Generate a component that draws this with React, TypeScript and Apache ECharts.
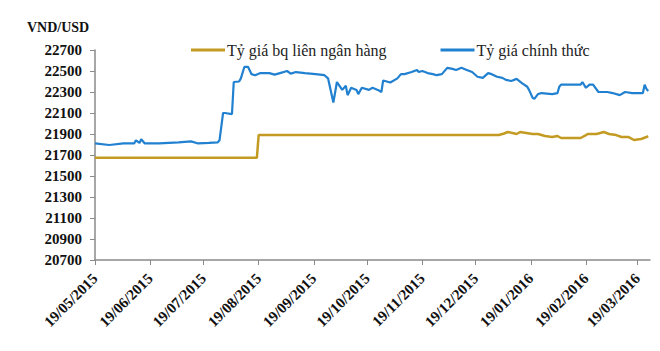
import React, { useEffect, useRef } from "react";
import * as echarts from "echarts";

const seriesNames = ["Tỷ giá bq liên ngân hàng", "Tỷ giá chính thức"];

const yTicks = [20700, 20900, 21100, 21300, 21500, 21700, 21900, 22100, 22300, 22500, 22700];

const xTickDates = [
  "2015-05-19", "2015-06-19", "2015-07-19", "2015-08-19", "2015-09-19", "2015-10-19",
  "2015-11-19", "2015-12-19", "2016-01-19", "2016-02-19", "2016-03-19",
];

const xStart = "2015-05-19";
const xEnd = "2016-03-26";

const goldDates = [
  "2015-05-19", "2015-08-18", "2015-08-19", "2016-01-01", "2016-01-04", "2016-01-06",
  "2016-01-11", "2016-01-13", "2016-01-20", "2016-01-23", "2016-01-27", "2016-01-31",
  "2016-02-03", "2016-02-05", "2016-02-16", "2016-02-19", "2016-02-20", "2016-02-25",
  "2016-02-29", "2016-03-03", "2016-03-07", "2016-03-10", "2016-03-14", "2016-03-17",
  "2016-03-21", "2016-03-24", "2016-03-25",
];
const goldValues = [
  21673, 21673, 21890, 21890, 21905, 21919,
  21900, 21919, 21900, 21900, 21881, 21871,
  21881, 21862, 21862, 21890, 21900, 21900,
  21919, 21900, 21890, 21871, 21871, 21843,
  21852, 21871, 21880,
];

const blueDates = [
  "2015-05-19", "2015-05-27", "2015-06-04", "2015-06-10", "2015-06-11", "2015-06-13",
  "2015-06-14", "2015-06-16", "2015-06-24", "2015-07-05", "2015-07-12", "2015-07-16",
  "2015-07-22", "2015-07-27", "2015-07-28", "2015-07-30", "2015-07-31", "2015-08-04",
  "2015-08-05", "2015-08-08", "2015-08-09", "2015-08-11", "2015-08-13", "2015-08-15",
  "2015-08-17", "2015-08-20", "2015-08-25", "2015-08-28", "2015-08-31", "2015-09-04",
  "2015-09-06", "2015-09-09", "2015-09-14", "2015-09-20", "2015-09-25", "2015-09-27",
  "2015-09-30", "2015-10-02", "2015-10-05", "2015-10-07", "2015-10-08", "2015-10-10",
  "2015-10-13", "2015-10-14", "2015-10-16", "2015-10-20", "2015-10-22", "2015-10-25",
  "2015-10-27", "2015-10-28", "2015-11-01", "2015-11-05", "2015-11-07", "2015-11-09",
  "2015-11-13", "2015-11-16", "2015-11-17", "2015-11-19", "2015-11-22", "2015-11-25",
  "2015-11-27", "2015-11-30", "2015-12-03", "2015-12-06", "2015-12-08", "2015-12-11",
  "2015-12-14", "2015-12-17", "2015-12-20", "2015-12-23", "2015-12-26", "2015-12-28",
  "2015-12-31", "2016-01-03", "2016-01-05", "2016-01-08", "2016-01-11", "2016-01-14",
  "2016-01-17", "2016-01-18", "2016-01-20", "2016-01-21", "2016-01-23", "2016-01-25",
  "2016-01-31", "2016-02-03", "2016-02-04", "2016-02-05", "2016-02-16", "2016-02-17",
  "2016-02-19", "2016-02-21", "2016-02-23", "2016-02-26", "2016-03-02", "2016-03-05",
  "2016-03-09", "2016-03-12", "2016-03-16", "2016-03-22", "2016-03-23", "2016-03-24",
  "2016-03-25",
];
const blueValues = [
  21810, 21795, 21810, 21810, 21840, 21815,
  21850, 21810, 21810, 21820, 21830, 21810,
  21815, 21820, 21840, 22100, 22100, 22090,
  22395, 22400, 22430, 22540, 22540, 22470,
  22460, 22480, 22480, 22465, 22480, 22500,
  22475, 22490, 22480, 22470, 22460, 22430,
  22200, 22395, 22320, 22360, 22270, 22340,
  22320, 22280, 22340, 22320, 22340, 22320,
  22300, 22410, 22390, 22430, 22470, 22470,
  22490, 22510, 22490, 22500, 22480, 22470,
  22460, 22470, 22530, 22520, 22510, 22530,
  22510, 22490, 22445, 22435, 22480, 22470,
  22445, 22435, 22415, 22405, 22425, 22385,
  22350, 22320, 22245, 22235, 22280, 22290,
  22280, 22290, 22350, 22370, 22370, 22395,
  22340, 22370, 22370, 22300, 22300, 22290,
  22270, 22300, 22290, 22290, 22370, 22330,
  22310,
];

const ts = (s: string) => {
  const [y, m, d] = s.split("-").map(Number);
  return Date.UTC(y, m - 1, d);
};
const pad = (n: number) => (n < 10 ? "0" + n : "" + n);
const fmtDate = (v: number) => {
  const d = new Date(v);
  return pad(d.getUTCDate()) + "/" + pad(d.getUTCMonth() + 1) + "/" + d.getUTCFullYear();
};

const SERIF = "'Liberation Serif', 'Times New Roman', serif";

export default function App() {
  const ref = useRef<HTMLDivElement>(null);
  useEffect(() => {
    if (!ref.current) return;
    const chart = echarts.init(ref.current, null, { renderer: "svg" });
    const xTicks = xTickDates.map(ts);
    chart.setOption({
      animation: false,
      backgroundColor: "#ffffff",
      title: {
        text: "VND/USD",
        left: 22,
        top: 15,
        textStyle: { fontFamily: SERIF, fontSize: 14, fontWeight: "bold", color: "#111" },
      },
      legend: {
        left: 186,
        top: 37,
        itemGap: 54,
        itemWidth: 34,
        itemHeight: 3,
        icon: "rect",
        selectedMode: false,
        textStyle: { fontFamily: SERIF, fontSize: 16, color: "#222", padding: [0, 0, 0, -3] },
        data: seriesNames,
      },
      grid: { left: 95, right: 10, top: 50, bottom: 91, containLabel: false },
      xAxis: {
        type: "value",
        min: ts(xStart),
        max: ts(xEnd),
        splitLine: { show: false },
        axisLine: { show: true, lineStyle: { color: "#8a8a8a", width: 1.5 } },
        axisTick: { show: true, length: 5, customValues: xTicks, lineStyle: { color: "#8a8a8a", width: 1 } },
        axisLabel: {
          customValues: xTicks,
          rotate: 45,
          margin: 16,
          formatter: (v: number) => fmtDate(v),
          fontFamily: SERIF,
          fontSize: 15,
          fontWeight: "bold",
          color: "#111",
        },
      },
      yAxis: {
        type: "value",
        min: 20700,
        max: 22700,
        splitLine: { show: false },
        axisLine: { show: true, lineStyle: { color: "#8a8a8a", width: 1.5 } },
        axisTick: { show: true, length: 5, customValues: yTicks, lineStyle: { color: "#8a8a8a", width: 1 } },
        axisLabel: {
          customValues: yTicks,
          margin: 13,
          formatter: (v: number) => String(v),
          fontFamily: SERIF,
          fontSize: 15,
          fontWeight: "bold",
          color: "#111",
        },
      },
      series: [
        {
          name: seriesNames[0],
          type: "line",
          showSymbol: false,
          color: "#C49B22",
          lineStyle: { width: 2.5, color: "#C49B22" },
          data: goldDates.map((d, i) => [ts(d), goldValues[i]]),
        },
        {
          name: seriesNames[1],
          type: "line",
          showSymbol: false,
          color: "#2181D0",
          lineStyle: { width: 2.2, color: "#2181D0" },
          data: blueDates.map((d, i) => [ts(d), blueValues[i]]),
        },
      ],
    });
    return () => chart.dispose();
  }, []);
  return <div ref={ref} style={{ width: 660, height: 351, margin: -8 }} />;
}
